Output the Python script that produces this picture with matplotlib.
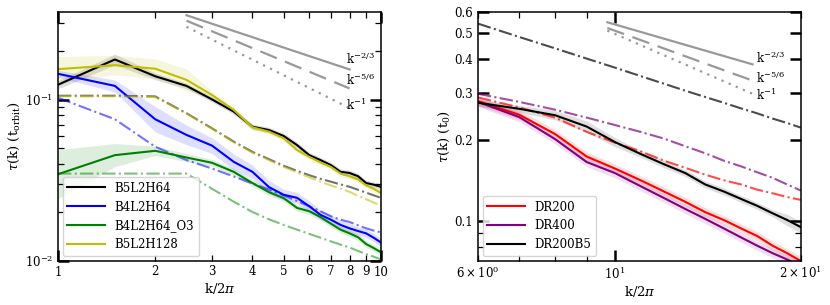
import numpy as np
import matplotlib
matplotlib.use("Agg")
import matplotlib.pyplot as plt
from matplotlib import ticker

plt.rcParams['font.family'] = ['DejaVu Serif']
plt.rcParams['mathtext.fontset'] = 'dejavuserif'
plt.rcParams['font.size'] = 8.5

# ---- left panel data: k/2pi and tau(k) in t_orbit ----
k_left = [1, 1.5, 2, 2.5, 3, 3.5, 4, 4.5, 5, 5.5, 6, 6.5, 7, 7.5, 8, 8.5, 9, 9.5, 10]

b5l2h64 = [0.124, 0.178, 0.140, 0.122, 0.1005, 0.0845, 0.068, 0.0649, 0.0596, 0.0523,
           0.0453, 0.0422, 0.0393, 0.0357, 0.0351, 0.0335, 0.0304, 0.0297, 0.0288]
b4l2h64 = [0.145, 0.122, 0.0757, 0.0605, 0.0519, 0.0412, 0.0357, 0.0287, 0.0257, 0.0246,
           0.0218, 0.0193, 0.018, 0.0167, 0.0159, 0.0153, 0.0148, 0.0139, 0.013]
b4l2h64_o3 = [0.0345, 0.0453, 0.0482, 0.0438, 0.0406, 0.0357, 0.0304, 0.0267, 0.0245, 0.0213,
              0.0203, 0.0187, 0.017, 0.0156, 0.0148, 0.014, 0.0127, 0.012, 0.0113]
b5l2h128 = [0.155, 0.164, 0.156, 0.133, 0.107, 0.0866, 0.0675, 0.0634, 0.0576, 0.0487,
            0.0442, 0.0408, 0.0383, 0.0348, 0.0335, 0.032, 0.0294, 0.028, 0.0264]

# spread of the runs (multiplicative)
b5l2h64_sp = [1.06, 1.08, 1.05, 1.04, 1.04, 1.04, 1.04, 1.04, 1.04, 1.04,
              1.04, 1.04, 1.04, 1.04, 1.04, 1.04, 1.04, 1.04, 1.04]
b4l2h64_sp = [1.05, 1.09, 1.2, 1.15, 1.12, 1.12, 1.1, 1.1, 1.08, 1.08,
              1.08, 1.07, 1.07, 1.07, 1.07, 1.06, 1.06, 1.06, 1.06]
b4l2h64_o3_sp = [1.42, 1.18, 1.07, 1.06, 1.05, 1.05, 1.05, 1.05, 1.05, 1.05,
                 1.05, 1.05, 1.05, 1.05, 1.05, 1.05, 1.05, 1.05, 1.05]
b5l2h128_sp = [1.2, 1.15, 1.15, 1.17, 1.06, 1.04, 1.04, 1.04, 1.04, 1.04,
               1.04, 1.04, 1.04, 1.04, 1.04, 1.04, 1.04, 1.04, 1.04]

# model curves (dash-dot)
b5l2h64_mod = [0.106, 0.106, 0.105, 0.0825, 0.0665, 0.055, 0.0475, 0.0428, 0.0389, 0.0362,
               0.034, 0.0323, 0.031, 0.0298, 0.0288, 0.0276, 0.0265, 0.0255, 0.0246]
b5l2h128_mod = [0.105, 0.105, 0.104, 0.082, 0.066, 0.0545, 0.047, 0.0422, 0.0383, 0.0354,
                0.033, 0.031, 0.0294, 0.028, 0.0268, 0.0253, 0.0241, 0.023, 0.022]
b4l2h64_mod = [0.103, 0.0757, 0.0511, 0.0422, 0.0374, 0.0334, 0.0302, 0.0277, 0.0255, 0.0235,
               0.0218, 0.0203, 0.0189, 0.018, 0.0174, 0.0166, 0.0159, 0.0154, 0.015]
b4l2h64_o3_mod = [0.0348, 0.0348, 0.0348, 0.0348, 0.028, 0.0233, 0.0201, 0.0181, 0.0167, 0.0156,
                  0.0147, 0.0139, 0.0132, 0.0126, 0.0121, 0.0115, 0.011, 0.0106, 0.0102]

# ---- right panel data: k/2pi and tau(k) in t_0 ----
k_right = [6, 7, 8, 9, 10, 11, 12, 13, 14, 15, 16, 17, 18, 19, 20]

dr200 = [0.28, 0.249, 0.211, 0.174, 0.157, 0.142, 0.129, 0.118, 0.108, 0.101,
         0.094, 0.088, 0.081, 0.076, 0.071]
dr400 = [0.278, 0.244, 0.202, 0.166, 0.151, 0.135, 0.122, 0.111, 0.102, 0.094,
         0.087, 0.081, 0.076, 0.072, 0.068]
dr200b5 = [0.276, 0.262, 0.248, 0.225, 0.197, 0.178, 0.163, 0.151, 0.137, 0.129,
           0.121, 0.114, 0.107, 0.101, 0.095]
dr200_sp = [1.04] * 15
dr400_sp = [1.04] * 15
dr200b5_sp = [1.03, 1.03, 1.04, 1.05, 1.04, 1.03, 1.03, 1.03, 1.03, 1.03,
              1.03, 1.03, 1.03, 1.05, 1.05]

dr200_mod = [0.289, 0.265, 0.243, 0.215, 0.196, 0.182, 0.168, 0.158, 0.149, 0.142,
             0.137, 0.131, 0.127, 0.123, 0.120]
dr400_mod = [0.298, 0.278, 0.26, 0.243, 0.228, 0.215, 0.203, 0.19, 0.179, 0.168,
             0.16, 0.152, 0.145, 0.137, 0.130]
dr200b5_mod = [0.544, 0.485, 0.44, 0.403, 0.373, 0.347, 0.325, 0.306, 0.29, 0.276,
               0.263, 0.252, 0.241, 0.232, 0.223]

# power-law guides: k range, amplitudes at start, exponents
slopes = [2 / 3, 5 / 6, 1.0]
slope_labels = [r'k$^{-2/3}$', r'k$^{-5/6}$', r'k$^{-1}$']
slope_styles = ['-', (0, (8, 4)), (0, (1, 2.5))]
guide_left_k = (2.5, 8.0)
guide_left_amp = [0.335, 0.31, 0.284]
guide_right_k = (9.72, 16.7)
guide_right_amp = [0.5504, 0.524, 0.5123]


def style_axes(ax):
    ax.set_xscale('log')
    ax.set_yscale('log')
    ax.tick_params(which='both', direction='in', top=True, right=True)
    ax.tick_params(which='major', length=8, width=1.8)
    ax.tick_params(which='minor', length=4, width=0.9)
    for sp in ax.spines.values():
        sp.set_linewidth(1.1)


def plot_run(ax, k, y, sp, mod, color, label, mod_alpha=0.6):
    y = np.asarray(y)
    sp = np.asarray(sp)
    ax.fill_between(k, y / sp, y * sp, color=color, alpha=0.13, lw=0)
    ax.plot(k, y, color=color, lw=1.5, label=label)
    ax.plot(k, mod, color=color, lw=1.5, ls='-.', alpha=mod_alpha)


def guides(ax, krange, amps, xtext, offsets):
    k = np.array(krange)
    for amp, p, lab, ls, off in zip(amps, slopes, slope_labels, slope_styles, offsets):
        yy = amp * (k / k[0]) ** (-p)
        ax.plot(k, yy, color='0.6', lw=1.6, ls=ls)
        ax.annotate(lab, (xtext, yy[-1]), xytext=(0, off), textcoords='offset pixels',
                    fontsize=8.5, va='center', ha='left')


fig = plt.figure(figsize=(8.3, 3.05), dpi=100)

# left panel
ax1 = fig.add_axes([0.0699, 0.145, 0.389, 0.815])
style_axes(ax1)
plot_run(ax1, k_left, b5l2h64, b5l2h64_sp, b5l2h64_mod, 'k', 'B5L2H64', 0.55)
plot_run(ax1, k_left, b4l2h64, b4l2h64_sp, b4l2h64_mod, 'b', 'B4L2H64', 0.55)
plot_run(ax1, k_left, b4l2h64_o3, b4l2h64_o3_sp, b4l2h64_o3_mod, 'g', 'B4L2H64_O3', 0.5)
plot_run(ax1, k_left, b5l2h128, b5l2h128_sp, b5l2h128_mod, 'y', 'B5L2H128', 0.55)
guides(ax1, guide_left_k, guide_left_amp, 7.8, [10, 8, 3])
ax1.set_xlim(1, 10)
ax1.set_ylim(0.01, 0.35)
ax1.xaxis.set_major_formatter(ticker.FormatStrFormatter('%g'))
ax1.xaxis.set_minor_formatter(ticker.FormatStrFormatter('%g'))
ax1.set_xlabel(r'k/2$\pi$', fontsize=9.5, labelpad=2)
ax1.set_ylabel(r'$\tau$(k) (t$_{\rm orbit}$)', fontsize=9.5, labelpad=2)
ax1.legend(loc='lower left', fontsize=8.5, handlelength=3.2, borderaxespad=0.4)

# right panel
ax2 = fig.add_axes([0.5759, 0.145, 0.389, 0.815])
style_axes(ax2)
plot_run(ax2, k_right, dr200, dr200_sp, dr200_mod, 'r', 'DR200', 0.7)
plot_run(ax2, k_right, dr400, dr400_sp, dr400_mod, 'purple', 'DR400', 0.7)
plot_run(ax2, k_right, dr200b5, dr200b5_sp, dr200b5_mod, 'k', 'DR200B5', 0.7)
guides(ax2, guide_right_k, guide_right_amp, 16.9, [6, 3, -1])
ax2.set_xlim(6, 20)
ax2.set_ylim(0.0712, 0.6)
ax2.set_yticks([0.1, 0.2, 0.3, 0.4, 0.5, 0.6])
ax2.yaxis.set_major_formatter(ticker.FormatStrFormatter('%g'))
ax2.yaxis.set_minor_formatter(ticker.NullFormatter())
ax2.set_xlabel(r'k/2$\pi$', fontsize=9.5, labelpad=2)
ax2.set_ylabel(r'$\tau$(k) (t$_0$)', fontsize=9.5, labelpad=2)
ax2.legend(loc='lower left', fontsize=8.5, handlelength=3.2, borderaxespad=0.4)

fig.savefig('out.png', dpi=100)
